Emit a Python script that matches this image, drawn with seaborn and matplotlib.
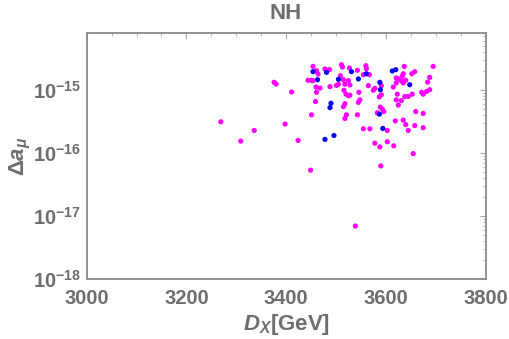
import math
import pandas as pd
import matplotlib
matplotlib.use('Agg')
import matplotlib.pyplot as plt
import matplotlib.ticker as mticker
import seaborn as sns

# ============= ДАННЫЕ =============
mag_x = [3454, 3461, 3464, 3478, 3487, 3511, 3513, 3527, 3543, 3560, 3561, 3567, 3555,
         3637, 3695, 3635, 3633, 3658, 3652, 3688, 3684, 3621, 3625, 3631, 3640, 3621,
         3635, 3376, 3380, 3411, 3444, 3450, 3454, 3460, 3468, 3461, 3488, 3501, 3505,
         3509, 3515, 3518, 3525, 3528, 3516, 3520, 3525, 3528, 3546, 3548, 3545, 3565,
         3575, 3578, 3591, 3591, 3587, 3615, 3623, 3621, 3631, 3625, 3638, 3645, 3653,
         3672, 3675, 3688, 3682, 3459, 3515, 3518, 3521, 3518, 3543, 3451, 3589, 3593,
         3596, 3583, 3619, 3635, 3640, 3645, 3658, 3675, 3660, 3675, 3555, 3568, 3603,
         3398, 3336, 3424, 3578, 3588, 3603, 3616, 3655, 3269, 3309, 3449, 3590, 3539]
mag_y = [2.34e-15, 2.0e-15, 1.77e-15, 2.13e-15, 2.08e-15, 2.49e-15, 2.29e-15, 2.21e-15,
         2.03e-15, 2.4e-15, 2.15e-15, 1.73e-15, 1.73e-15, 2.34e-15, 2.34e-15, 1.79e-15,
         1.63e-15, 1.93e-15, 1.79e-15, 1.57e-15, 1.32e-15, 1.53e-15, 1.48e-15, 1.39e-15,
         1.41e-15, 1.28e-15, 1.28e-15, 1.31e-15, 1.23e-15, 9.2e-16, 1.41e-15, 1.41e-15,
         1.39e-15, 1.10e-15, 1.06e-15, 9.1e-16, 1.12e-15, 1.17e-15, 1.22e-15, 1.67e-15,
         1.44e-15, 1.22e-15, 1.39e-15, 1.19e-15, 9.8e-16, 8.5e-16, 8.0e-16, 8.2e-16,
         9.1e-16, 6.9e-16, 6.3e-16, 1.16e-15, 9.8e-16, 1.05e-15, 1.16e-15, 8.3e-16,
         7.7e-16, 1.10e-15, 8.5e-16, 6.9e-16, 6.7e-16, 5.7e-16, 7.8e-16, 7.8e-16,
         8.5e-16, 9.1e-16, 8.5e-16, 1.0e-15, 9.4e-16, 6.5e-16, 5.4e-16, 6.0e-16,
         4.0e-16, 3.5e-16, 4.0e-16, 4.0e-16, 5.3e-16, 4.9e-16, 4.5e-16, 4.3e-16,
         3.2e-16, 3.3e-16, 2.8e-16, 2.26e-16, 2.7e-16, 2.5e-16, 4.5e-16, 4.2e-16,
         2.4e-16, 2.4e-16, 2.26e-16, 2.85e-16, 2.26e-16, 1.57e-16, 1.42e-16, 1.24e-16,
         1.5e-16, 1.29e-16, 9.7e-17, 3.1e-16, 1.53e-16, 5.3e-17, 6.2e-17, 6.9e-18]

blue_x = [3454, 3463, 3481, 3531, 3505, 3545, 3561, 3588, 3589, 3613, 3620, 3648,
          3490, 3488, 3587, 3594, 3478, 3496]
blue_y = [1.93e-15, 1.44e-15, 1.88e-15, 1.93e-15, 1.46e-15, 1.48e-15, 1.79e-15,
          1.31e-15, 1.0e-15, 1.98e-15, 2.08e-15, 1.2e-15, 6.1e-16, 5.2e-16, 4.1e-16,
          2.43e-16, 1.63e-16, 1.88e-16]

y_ticks = [1e-18, 1e-17, 1e-16, 1e-15]

df = pd.DataFrame({
    'D': mag_x + blue_x,
    'da': mag_y + blue_y,
    'set': ['m'] * len(mag_x) + ['b'] * len(blue_x),
})

sns.set_style('white')
plt.rcParams['font.family'] = ['Liberation Sans', 'DejaVu Sans']
plt.rcParams['mathtext.fontset'] = 'custom'
plt.rcParams['mathtext.rm'] = 'Liberation Sans:bold'
plt.rcParams['mathtext.bf'] = 'Liberation Sans:bold'
plt.rcParams['mathtext.it'] = 'Liberation Sans:italic:bold'

grey = '#6e6e6e'

fig = plt.figure(figsize=(5.1, 3.39), dpi=100)
ax = fig.add_axes([0.170, 0.177, 0.782, 0.7265])

sns.scatterplot(data=df, x='D', y='da', hue='set',
                palette={'m': '#ff00ff', 'b': '#0000ff'},
                s=14, linewidth=0, legend=False, ax=ax)

ax.set_yscale('log')
ax.set_xlim(3000, 3800)
ax.set_ylim(1e-18, 8e-15)

ax.xaxis.set_major_locator(mticker.MultipleLocator(200))
ax.xaxis.set_minor_locator(mticker.MultipleLocator(50))
ax.yaxis.set_major_locator(mticker.FixedLocator(y_ticks))
ax.yaxis.set_minor_locator(mticker.LogLocator(base=10, subs=range(2, 10), numticks=10))
ax.yaxis.set_minor_formatter(mticker.NullFormatter())
ax.yaxis.set_major_formatter(mticker.FuncFormatter(
    lambda v, p: r'$\mathbf{10^{%d}}$' % round(math.log10(v))))

for sp in ax.spines.values():
    sp.set_color('#8a8a8a')
    sp.set_linewidth(1.3)

ax.tick_params(which='both', direction='in', top=True, right=True,
               color='#aaaaaa', labelcolor=grey)
ax.tick_params(which='major', length=4, width=0.8, labelsize=14.5, pad=4)
ax.tick_params(which='minor', length=2, width=0.6)
ax.tick_params(axis='x', which='major', pad=7)
for lab in ax.get_xticklabels():
    lab.set_fontweight('bold')

ax.set_title('NH', fontsize=16, fontweight='bold', color=grey, pad=10)
ax.set_xlabel(r'$D_X$[GeV]', fontsize=16, fontweight='bold', color=grey, labelpad=3)
ax.set_ylabel(r'$\Delta a_{\mu}$', fontsize=16, fontweight='bold', color=grey, labelpad=0)

plt.savefig('out.png', dpi=100)
